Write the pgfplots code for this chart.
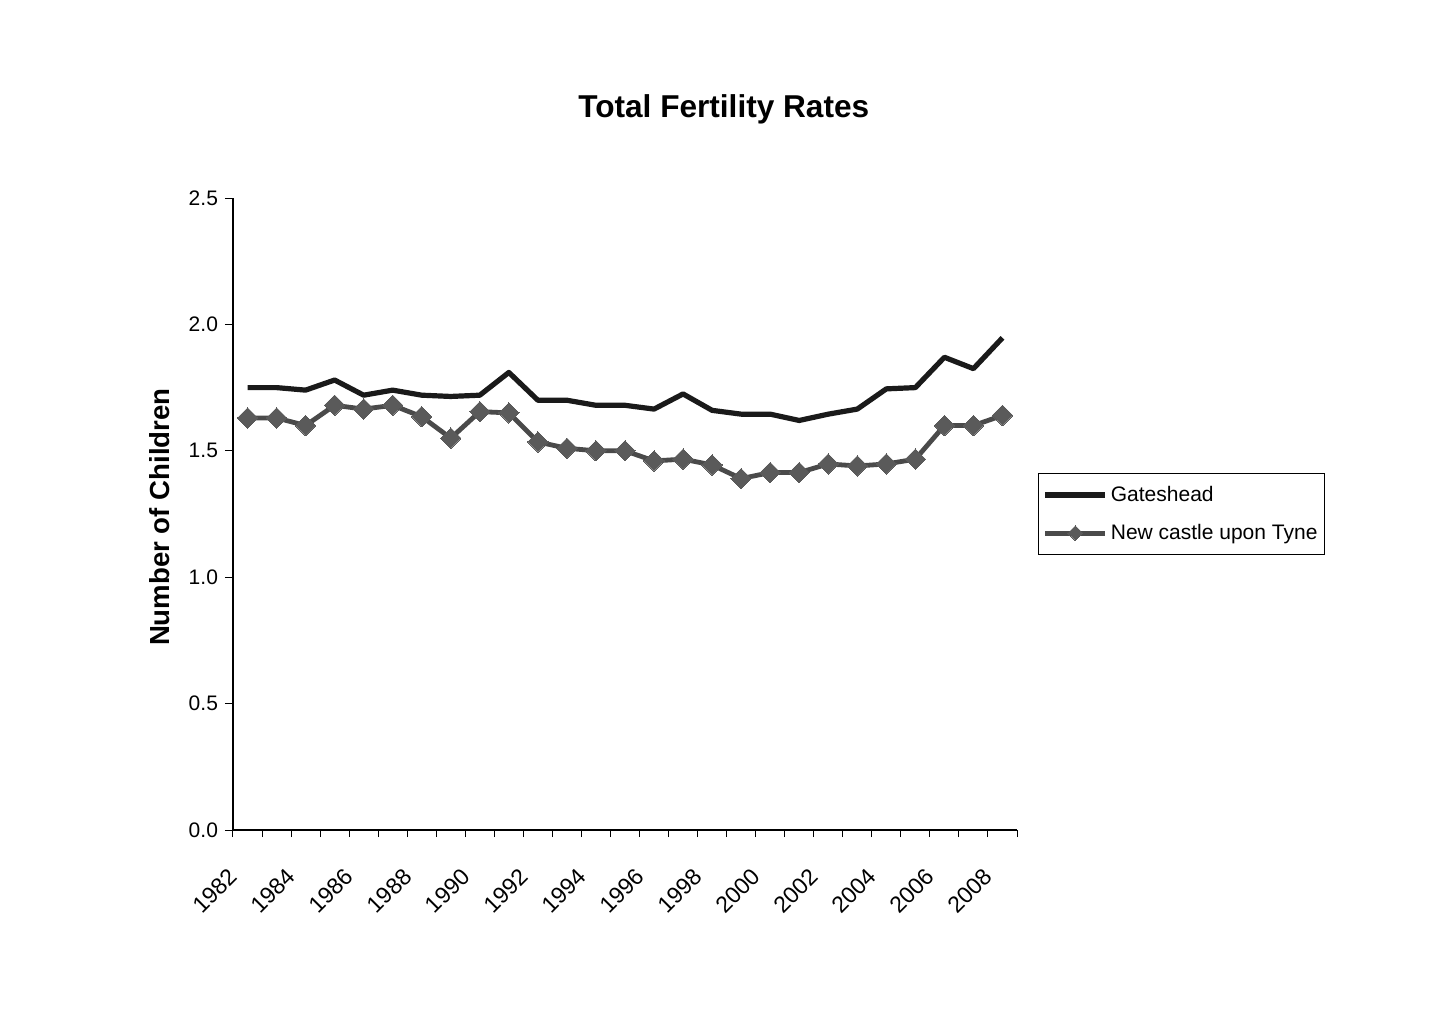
\documentclass[border=0pt]{standalone}
\usepackage{pgfplots}
\pgfplotsset{compat=1.18}
\usepackage{fontspec}
\setmainfont{Liberation Sans}

\definecolor{gates}{HTML}{1A1A1A}
\definecolor{newc}{HTML}{4A4A4A}
\definecolor{newcmark}{HTML}{5A5A5A}

% years 1982..2008 plotted at 0..26
\pgfplotstableread{
idx year gateshead newcastle
0  1982 1.75  1.63
1  1983 1.75  1.63
2  1984 1.74  1.60
3  1985 1.78  1.68
4  1986 1.72  1.665
5  1987 1.74  1.68
6  1988 1.72  1.635
7  1989 1.715 1.55
8  1990 1.72  1.655
9  1991 1.81  1.65
10 1992 1.70  1.535
11 1993 1.70  1.51
12 1994 1.68  1.50
13 1995 1.68  1.50
14 1996 1.665 1.46
15 1997 1.725 1.467
16 1998 1.66  1.444
17 1999 1.645 1.39
18 2000 1.645 1.414
19 2001 1.62  1.414
20 2002 1.645 1.448
21 2003 1.665 1.44
22 2004 1.745 1.448
23 2005 1.75  1.467
24 2006 1.87  1.60
25 2007 1.825 1.60
26 2008 1.947 1.64
}\tfr

\begin{document}
\begin{tikzpicture}
\path[use as bounding box] (-116.5pt,-97pt) rectangle (608pt,415pt);
\begin{axis}[
  scale only axis,
  width=392pt, height=316pt,
  xmin=-0.5, xmax=26.5,
  ymin=0, ymax=2.5,
  axis lines=left,
  axis line style={-, black, line width=0.6pt},
  tick align=outside,
  xtick={0,2,...,26},
  xticklabels={1982,1984,1986,1988,1990,1992,1994,1996,1998,2000,2002,2004,2006,2008},
  major x tick style={draw=none},
  minor xtick={-0.5,0.5,...,26.5},
  minor tick length=3.5pt,
  minor x tick style={black, line width=0.5pt},
  ytick={0,0.5,...,2.5},
  major tick length=4pt,
  ytick style={black, line width=0.5pt},
  yticklabel style={/pgf/number format/fixed, /pgf/number format/fixed zerofill, /pgf/number format/precision=1},
  /pgf/number format/assume math mode=true,
  ticklabel style={font=\fontsize{10.5}{12}\selectfont},
  xticklabel style={xshift=-10pt, yshift=-9.5pt, rotate=45, anchor=north east, font=\fontsize{11.5}{13}\selectfont},
  title={Total Fertility Rates},
  title style={font=\bfseries\fontsize{15.8}{18}\selectfont, at={(axis description cs:0.626,1.122)}, anchor=center},
  ylabel={Number of Children},
  ylabel style={font=\bfseries\fontsize{13.8}{16}\selectfont, at={(axis description cs:-0.093,0.495)}, anchor=center},
  legend style={at={(axis description cs:1.027,0.5)}, anchor=west, draw=black, line width=0.5pt,
    font=\fontsize{10.5}{12}\selectfont, inner xsep=2pt, inner ysep=4pt, row sep=6pt,
    nodes={inner xsep=1.5pt}, cells={anchor=west}},
  legend image code/.code={\draw[mark repeat=2, mark phase=2, mark size=2.6pt, #1] plot coordinates {(0pt,0pt) (15pt,0pt) (30pt,0pt)};},
]
\addplot[gates, line width=2.6pt, line join=round] table[x=idx, y=gateshead] {\tfr};
\addlegendentry{Gateshead}
\addplot[newc, line width=2.4pt, line join=round, mark=square*, mark size=3.6pt,
  mark options={rotate=45, fill=newcmark, draw=newcmark, line width=0pt}] table[x=idx, y=newcastle] {\tfr};
\addlegendentry{New castle upon Tyne}
\end{axis}
\end{tikzpicture}
\end{document}
